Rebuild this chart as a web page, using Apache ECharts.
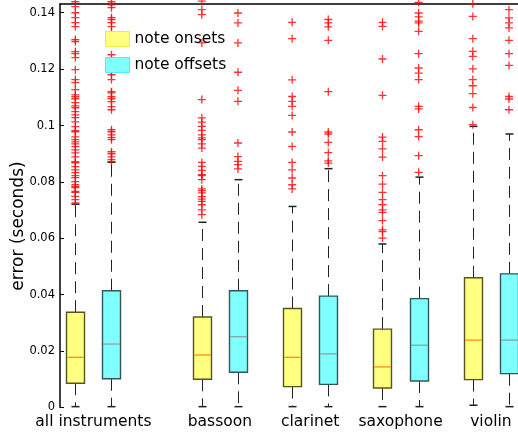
<!DOCTYPE html>
<html>
<head>
<meta charset="utf-8">
<script src="https://cdn.jsdelivr.net/npm/echarts@6/dist/echarts.min.js"></script>
<style>
html,body{margin:0;padding:0;background:#fff;}
#chart{width:518px;height:434px;}
</style>
</head>
<body>
<div id="chart"></div>
<script>
const categories = ['all instruments', 'bassoon', 'clarinet', 'saxophone', 'violin'];
const seriesNames = ['note onsets', 'note offsets'];
const yTicks = [0, 0.02, 0.04, 0.06, 0.08, 0.1, 0.12, 0.14];

// [min, Q1, median, Q3, max] per category
const onsetBoxes = [
  [0.0003, 0.0086, 0.0178, 0.0338, 0.0721],
  [0.0003, 0.0100, 0.0186, 0.0321, 0.0657],
  [0.0003, 0.0074, 0.0178, 0.0351, 0.0713],
  [0.0003, 0.0069, 0.0144, 0.0278, 0.0580],
  [0.0008, 0.0099, 0.0239, 0.0460, 0.0997]
];
const offsetBoxes = [
  [0.0003, 0.0102, 0.0225, 0.0414, 0.0870],
  [0.0003, 0.0125, 0.0251, 0.0414, 0.0808],
  [0.0003, 0.0082, 0.0190, 0.0395, 0.0847],
  [0.0003, 0.0094, 0.0221, 0.0386, 0.0817],
  [0.0003, 0.0120, 0.0239, 0.0474, 0.0970]
];

const onsetOutliers = [
  [0.1439, 0.1422, 0.1400, 0.1383, 0.1365, 0.1351, 0.1305, 0.1298, 0.1262, 0.1255, 0.1241, 0.1198,
   0.1163, 0.1152, 0.1127, 0.1109, 0.1102, 0.1095, 0.1081, 0.1070, 0.1063, 0.1049, 0.1038, 0.1028,
   0.1013, 0.0996, 0.0982, 0.0978, 0.0960, 0.0950, 0.0942, 0.0935, 0.0925, 0.0914, 0.0903, 0.0889,
   0.0872, 0.0868, 0.0854, 0.0843, 0.0833, 0.0822, 0.0815, 0.0801, 0.0790, 0.0783, 0.0780, 0.0766,
   0.0763, 0.0749, 0.0737, 0.0726],
  [0.1441, 0.1411, 0.1393, 0.1293, 0.1092, 0.1027, 0.1012, 0.0997, 0.0983, 0.0967, 0.0956, 0.0950,
   0.0935, 0.0920, 0.0869, 0.0855, 0.0841, 0.0826, 0.0822, 0.0808, 0.0775, 0.0769, 0.0761, 0.0748,
   0.0739, 0.0731, 0.0719, 0.0701, 0.0684],
  [0.1366, 0.1308, 0.1162, 0.1103, 0.1086, 0.1068, 0.1036, 0.0977, 0.0926, 0.0869, 0.0843, 0.0814,
   0.0790, 0.0775],
  [0.1366, 0.1352, 0.1236, 0.1107, 0.0959, 0.0944, 0.0917, 0.0888, 0.0822, 0.0792, 0.0763, 0.0737,
   0.0719, 0.0701, 0.0692, 0.0663, 0.0630, 0.0624, 0.0601],
  [0.1432, 0.1387, 0.1308, 0.1263, 0.1245, 0.1201, 0.1163, 0.1141, 0.1113, 0.1064, 0.1003]
];
const offsetOutliers = [
  [0.1439, 0.1428, 0.1418, 0.1383, 0.1376, 0.1365, 0.1351, 0.1333, 0.1294, 0.1251, 0.1233, 0.1209,
   0.1191, 0.1180, 0.1163, 0.1120, 0.1116, 0.1102, 0.1095, 0.1085, 0.1067, 0.1056, 0.0985, 0.0978,
   0.0967, 0.0957, 0.0950, 0.0907, 0.0900, 0.0889, 0.0879, 0.0872],
  [0.1399, 0.1364, 0.1293, 0.1189, 0.1125, 0.1086, 0.0938, 0.0890, 0.0873, 0.0861, 0.0846],
  [0.1376, 0.1364, 0.1350, 0.1302, 0.1120, 0.0977, 0.0970, 0.0940, 0.0904, 0.0875, 0.0867],
  [0.1437, 0.1399, 0.1385, 0.1370, 0.1364, 0.1334, 0.1255, 0.1204, 0.1186, 0.1163, 0.1068, 0.1059,
   0.0985, 0.0961, 0.0893, 0.0834],
  [0.1411, 0.1382, 0.1364, 0.1346, 0.1302, 0.1255, 0.1213, 0.1103, 0.1094, 0.1056]
];

// layout helpers
const groupPos = categories.map((c, i) => (i === 0 ? 0 : i + 0.4));
const FONT = 'DejaVu Sans';
const YMAX = 0.1431;

function boxData(boxes, shift) {
  return boxes.map((b, i) => [groupPos[i] + shift].concat(b));
}
function outlierData(lists, shift) {
  const out = [];
  lists.forEach((l, i) => l.forEach(v => out.push([groupPos[i] + shift, v])));
  return out;
}
function makeRender(fill, edge, med) {
  return function (params, api) {
    const x = api.value(0);
    const pMin = api.coord([x, api.value(1)]);
    const pQ1 = api.coord([x, api.value(2)]);
    const pMed = api.coord([x, api.value(3)]);
    const pQ3 = api.coord([x, api.value(4)]);
    const pMax = api.coord([x, api.value(5)]);
    const cx = Math.round(pMed[0]) + 0.5;
    const hw = 9, cw = 4;
    const wStyle = { stroke: '#222', lineWidth: 1, lineDash: [12, 7] };
    const cStyle = { stroke: '#222', lineWidth: 1.5 };
    return {
      type: 'group',
      children: [
        { type: 'line', shape: { x1: cx, y1: pQ1[1], x2: cx, y2: pMin[1] }, style: wStyle },
        { type: 'line', shape: { x1: cx, y1: pQ3[1], x2: cx, y2: pMax[1] }, style: wStyle },
        { type: 'line', shape: { x1: cx - cw, y1: pMin[1], x2: cx + cw, y2: pMin[1] }, style: cStyle },
        { type: 'line', shape: { x1: cx - cw, y1: pMax[1], x2: cx + cw, y2: pMax[1] }, style: cStyle },
        { type: 'rect', shape: { x: cx - hw, y: pQ3[1], width: hw * 2, height: pQ1[1] - pQ3[1] },
          style: { fill: fill, stroke: edge, lineWidth: 1.4 } },
        { type: 'line', shape: { x1: cx - hw + 0.7, y1: pMed[1], x2: cx + hw - 0.7, y2: pMed[1] },
          style: { stroke: med, lineWidth: 1.2 } }
      ]
    };
  };
}

const plusSymbol = 'path://M0,5L10,5M5,0L5,10';
const chart = echarts.init(document.getElementById('chart'), null, { renderer: 'canvas' });
chart.setOption({
  animation: false,
  backgroundColor: '#fff',
  grid: { left: 60, right: 0, top: 4, bottom: 26.5, containLabel: false },
  legend: {
    left: 100, top: 26, orient: 'vertical',
    itemWidth: 24, itemHeight: 15, itemGap: 10,
    textStyle: { fontFamily: FONT, fontSize: 15.5, color: '#000' },
    data: [
      { name: seriesNames[0], icon: 'rect', itemStyle: { color: '#ffff80', borderColor: '#eeee40', borderWidth: 1 } },
      { name: seriesNames[1], icon: 'rect', itemStyle: { color: '#80ffff', borderColor: '#50eeee', borderWidth: 1 } }
    ]
  },
  xAxis: [
    {
      type: 'value', min: -0.37, max: 4.70, position: 'bottom',
      axisLine: { show: false, onZero: false }, axisTick: { show: false }, splitLine: { show: false },
      axisLabel: {
        customValues: groupPos, margin: 6,
        fontFamily: FONT, fontSize: 15.5, color: '#000',
        formatter: function (v) {
          const i = groupPos.findIndex(p => Math.abs(p - v) < 1e-6);
          return i >= 0 ? categories[i] : '';
        }
      }
    },
    {
      type: 'value', min: -0.37, max: 4.70, position: 'top',
      axisLine: { show: true, onZero: false, lineStyle: { color: '#000', width: 1.5 } },
      axisTick: { show: false }, axisLabel: { show: false }, splitLine: { show: false }
    }
  ],
  yAxis: {
    type: 'value', min: 0, max: YMAX, interval: 0.02, position: 'left',
    axisLine: { show: true, onZero: false, lineStyle: { color: '#000', width: 1.5 } },
    axisTick: { show: true, inside: true, length: 4, customValues: yTicks, lineStyle: { color: '#000' } },
    splitLine: { show: false },
    axisLabel: { customValues: yTicks, margin: 5, fontFamily: FONT, fontSize: 11.5, color: '#000' }
  },
  graphic: [{
    type: 'text', x: 18.6, y: 226, rotation: Math.PI / 2,
    style: { text: 'error (seconds)', font: '17px "DejaVu Sans"', fill: '#000', align: 'center', verticalAlign: 'middle' }
  }],
  series: [
    {
      name: seriesNames[0], type: 'custom', renderItem: makeRender('#ffff80', '#55551f', '#ff8800'),
      itemStyle: { color: '#ffff80' }, encode: { x: 0, y: [1, 2, 3, 4, 5] },
      data: boxData(onsetBoxes, -0.2), clip: false, z: 2
    },
    {
      name: seriesNames[1], type: 'custom', renderItem: makeRender('#80ffff', '#2f5959', '#8a9c9c'),
      itemStyle: { color: '#80ffff' }, encode: { x: 0, y: [1, 2, 3, 4, 5] },
      data: boxData(offsetBoxes, 0.2), clip: false, z: 2
    },
    {
      name: 'onset outliers', type: 'scatter', symbol: plusSymbol, symbolSize: 8, clip: false,
      itemStyle: { color: 'rgba(0,0,0,0)', borderColor: '#ff0000', borderWidth: 1.3 },
      data: outlierData(onsetOutliers, -0.2), z: 3
    },
    {
      name: 'offset outliers', type: 'scatter', symbol: plusSymbol, symbolSize: 8, clip: false,
      itemStyle: { color: 'rgba(0,0,0,0)', borderColor: '#ff0000', borderWidth: 1.3 },
      data: outlierData(offsetOutliers, 0.2), z: 3
    }
  ]
});
</script>
</body>
</html>
